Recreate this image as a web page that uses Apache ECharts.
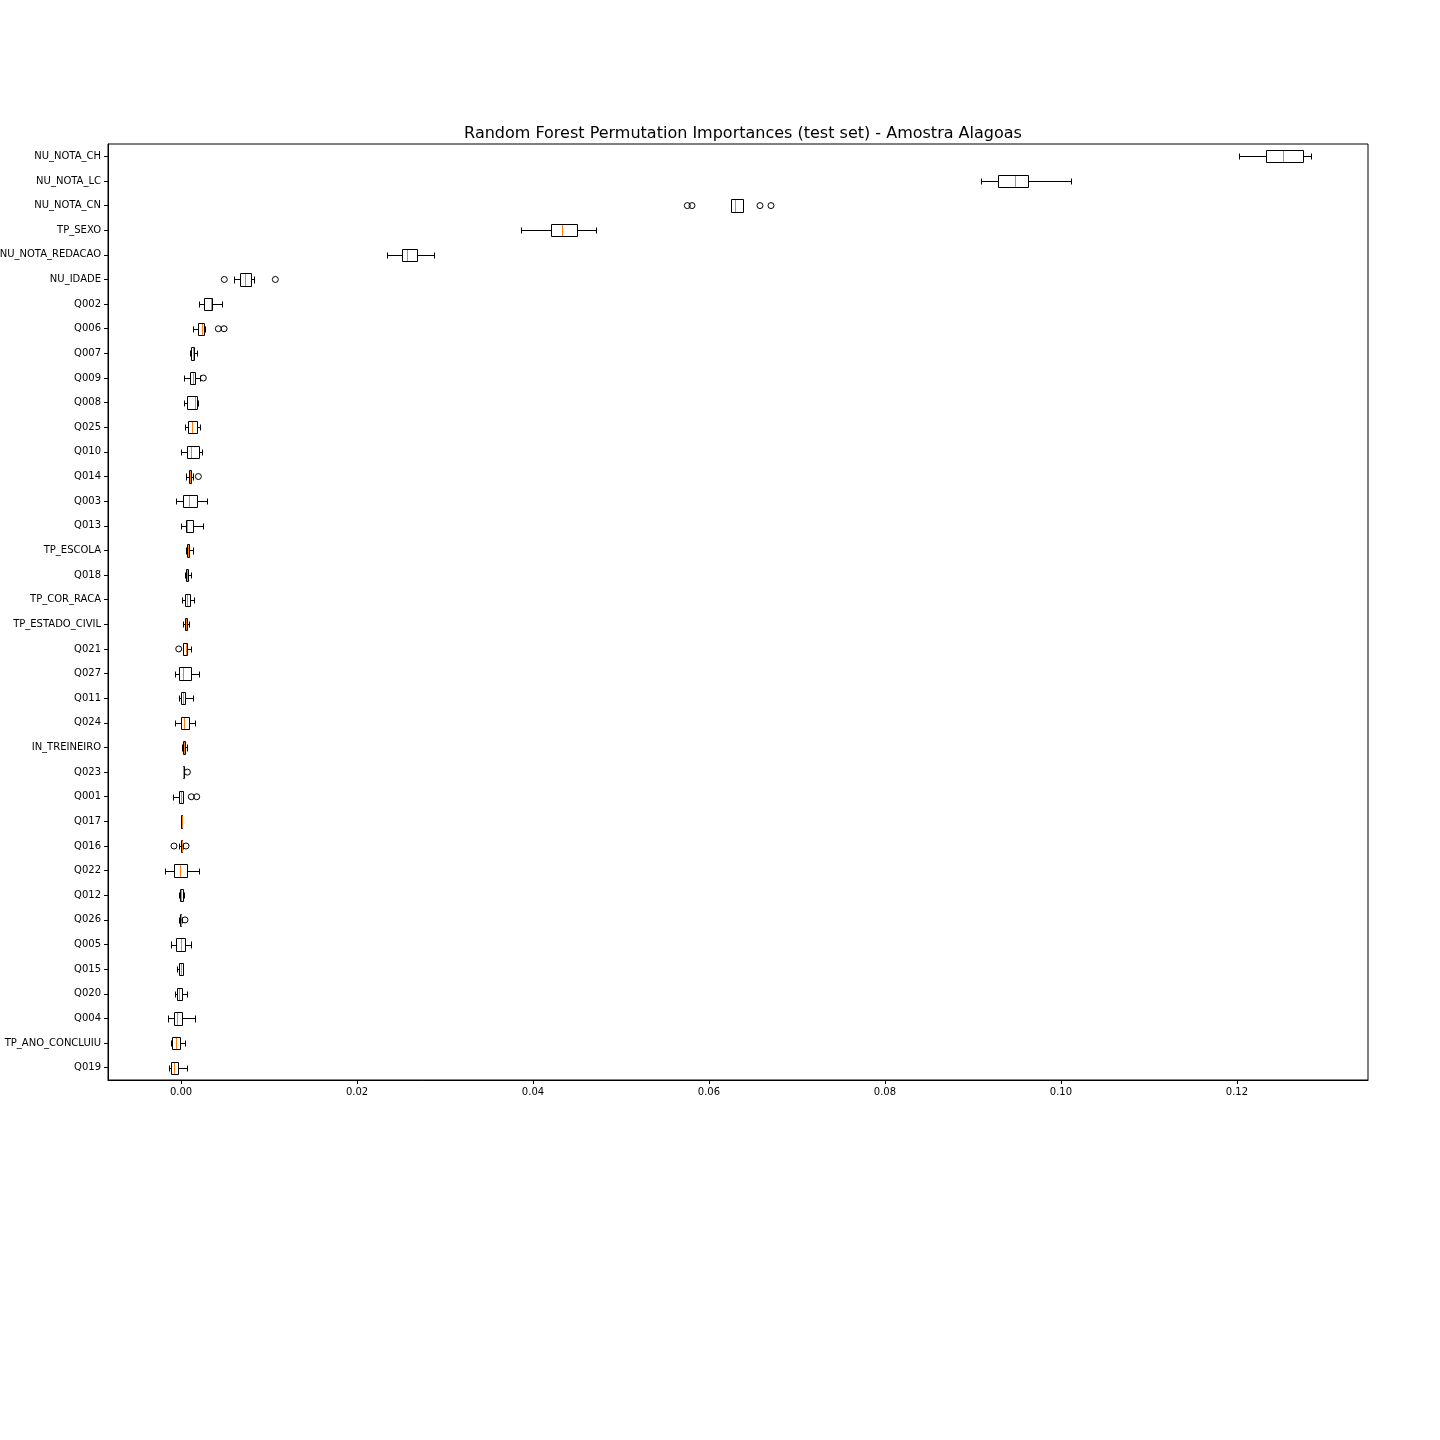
<!DOCTYPE html>
<html>
<head>
<meta charset="utf-8">
<script src="https://cdn.jsdelivr.net/npm/echarts@6/dist/echarts.min.js"></script>
<style>
html,body{margin:0;padding:0;background:#fff;}
#chart{width:1440px;height:1440px;}
</style>
</head>
<body>
<div id="chart"></div>
<script>
const categories = ['NU_NOTA_CH','NU_NOTA_LC','NU_NOTA_CN','TP_SEXO','NU_NOTA_REDACAO','NU_IDADE','Q002','Q006','Q007','Q009','Q008','Q025','Q010','Q014','Q003','Q013','TP_ESCOLA','Q018','TP_COR_RACA','TP_ESTADO_CIVIL','Q021','Q027','Q011','Q024','IN_TREINEIRO','Q023','Q001','Q017','Q016','Q022','Q012','Q026','Q005','Q015','Q020','Q004','TP_ANO_CONCLUIU','Q019'];
const whiskerLow  = [0.12026,0.09095,0.06253,0.03867,0.02345,0.00606,0.00208,0.00140,0.00102,0.00034,0.00034,0.00049,0.00004,0.00057,-0.00057,0.00004,0.00057,0.00045,0.00015,0.00026,0.00020,-0.00065,-0.00019,-0.00065,0.00011,0.00019,-0.00088,-0.00003,-0.00019,-0.00178,-0.00026,-0.00026,-0.00110,-0.00049,-0.00072,-0.00144,-0.00110,-0.00133];
const q1          = [0.12330,0.09288,0.06253,0.04205,0.02515,0.00674,0.00265,0.00197,0.00117,0.00106,0.00072,0.00080,0.00065,0.00088,0.00026,0.00057,0.00072,0.00057,0.00049,0.00042,0.00026,-0.00019,0.00004,0.00004,0.00026,0.00019,-0.00019,-0.00003,-0.00003,-0.00076,-0.00011,-0.00015,-0.00053,-0.00019,-0.00049,-0.00076,-0.00102,-0.00110];
const median      = [0.12526,0.09481,0.06299,0.04333,0.02572,0.00731,0.00344,0.00235,0.00133,0.00140,0.00159,0.00122,0.00117,0.00102,0.00094,0.00072,0.00083,0.00072,0.00072,0.00057,0.00057,0.00026,0.00026,0.00038,0.00038,0.00026,-0.00003,0.00008,0.00008,-0.00008,0.00004,-0.00003,0.00000,0.00000,-0.00019,-0.00042,-0.00053,-0.00083];
const q3          = [0.12753,0.09629,0.06390,0.04503,0.02685,0.00799,0.00356,0.00265,0.00148,0.00163,0.00178,0.00185,0.00201,0.00117,0.00178,0.00133,0.00094,0.00083,0.00102,0.00072,0.00065,0.00110,0.00049,0.00088,0.00049,0.00030,0.00026,0.00008,0.00011,0.00072,0.00019,0.00004,0.00042,0.00019,0.00011,0.00015,-0.00008,-0.00034];
const whiskerHigh = [0.12841,0.10114,0.06390,0.04712,0.02875,0.00833,0.00462,0.00273,0.00185,0.00216,0.00190,0.00219,0.00239,0.00140,0.00292,0.00253,0.00140,0.00117,0.00148,0.00088,0.00117,0.00201,0.00133,0.00156,0.00065,0.00030,0.00026,0.00008,0.00019,0.00208,0.00034,0.00008,0.00117,0.00026,0.00072,0.00163,0.00049,0.00072];
const outlierCats = ['NU_NOTA_CN','NU_NOTA_CN','NU_NOTA_CN','NU_NOTA_CN','NU_IDADE','NU_IDADE','Q006','Q006','Q009','Q014','Q021','Q023','Q001','Q001','Q016','Q016','Q026'];
const outlierVals = [0.05754,0.05807,0.06580,0.06705,0.00492,0.01072,0.00424,0.00489,0.00253,0.00197,-0.00026,0.00072,0.00117,0.00178,-0.00080,0.00057,0.00045];
const xTicks = [0,0.02,0.04,0.06,0.08,0.10,0.12];
const titleText = 'Random Forest Permutation Importances (test set) - Amostra Alagoas';

const boxData = categories.map((c,i)=>[i, whiskerLow[i], q1[i], median[i], q3[i], whiskerHigh[i]]);
const outlierData = outlierCats.map((c,i)=>[outlierVals[i], categories.indexOf(c)]);

const px = v => Math.round(v) + 0.5;

function renderBox(params, api){
  const yi = api.value(0);
  const band = api.size([0,1])[1];
  const boxH = band*0.5, capH = boxH*0.5;
  const yc = api.coord([api.value(3), yi])[1];
  const X = k => px(api.coord([api.value(k), yi])[0]);
  const xl = X(1), xq1 = X(2), xm = X(3), xq3 = X(4), xh = X(5);
  const yt = px(yc - boxH/2), yb = px(yc + boxH/2);
  const ct = px(yc - capH/2), cb = px(yc + capH/2);
  const ym = px(yc);
  const st = {stroke:'#000', lineWidth:1, fill:'none'};
  return {type:'group', children:[
    {type:'line', shape:{x1:xl,y1:ym,x2:xq1,y2:ym}, style:st},
    {type:'line', shape:{x1:xq3,y1:ym,x2:xh,y2:ym}, style:st},
    {type:'line', shape:{x1:xl,y1:ct,x2:xl,y2:cb}, style:st},
    {type:'line', shape:{x1:xh,y1:ct,x2:xh,y2:cb}, style:st},
    {type:'rect', shape:{x:xq1,y:yt,width:xq3-xq1,height:yb-yt}, style:{stroke:'#000',lineWidth:1,fill:'#ffffff'}},
    {type:'line', shape:{x1:xm,y1:yt+0.5,x2:xm,y2:yb-0.5}, style:{stroke:'#ff7f0e',lineWidth:1,fill:'none'}}
  ]};
}

const chart = echarts.init(document.getElementById('chart'), null, {renderer:'canvas'});
chart.setOption({
  backgroundColor:'#fff',
  animation:false,
  title:{text:titleText, left:738, textAlign:'center', top:121,
    textStyle:{fontFamily:'DejaVu Sans', fontSize:16, fontWeight:'normal', color:'#000'}},
  grid:{left:108, right:72, top:144, bottom:360, show:true, borderColor:'#000', borderWidth:1,
    containLabel:false, outerBoundsMode:'none'},
  xAxis:{type:'value', min:-0.0083, max:0.1349,
    axisLine:{show:true, onZero:false, lineStyle:{color:'#000', width:1}},
    splitLine:{show:false},
    axisTick:{show:true, length:4, lineStyle:{color:'#000'}, customValues:xTicks},
    axisLabel:{customValues:xTicks, formatter:v=>v.toFixed(2), margin:7,
      fontFamily:'DejaVu Sans', fontSize:10, color:'#000'}},
  yAxis:{type:'category', data:categories, inverse:true, boundaryGap:true,
    axisLine:{show:true, onZero:false, lineStyle:{color:'#000', width:1}},
    axisTick:{show:true, length:4, alignWithLabel:true, lineStyle:{color:'#000'}},
    axisLabel:{margin:7, fontFamily:'DejaVu Sans', fontSize:10, color:'#000', interval:0, padding:[2,0,0,0]},
    splitLine:{show:false}},
  series:[
    {type:'custom', renderItem:renderBox, data:boxData, encode:{x:[1,2,3,4,5], y:0}, clip:false, z:2},
    {type:'scatter', data:outlierData, symbol:'circle', symbolSize:6,
      itemStyle:{color:'rgba(0,0,0,0)', borderColor:'#000', borderWidth:1, opacity:1}, z:3}
  ]
});
</script>
</body>
</html>
